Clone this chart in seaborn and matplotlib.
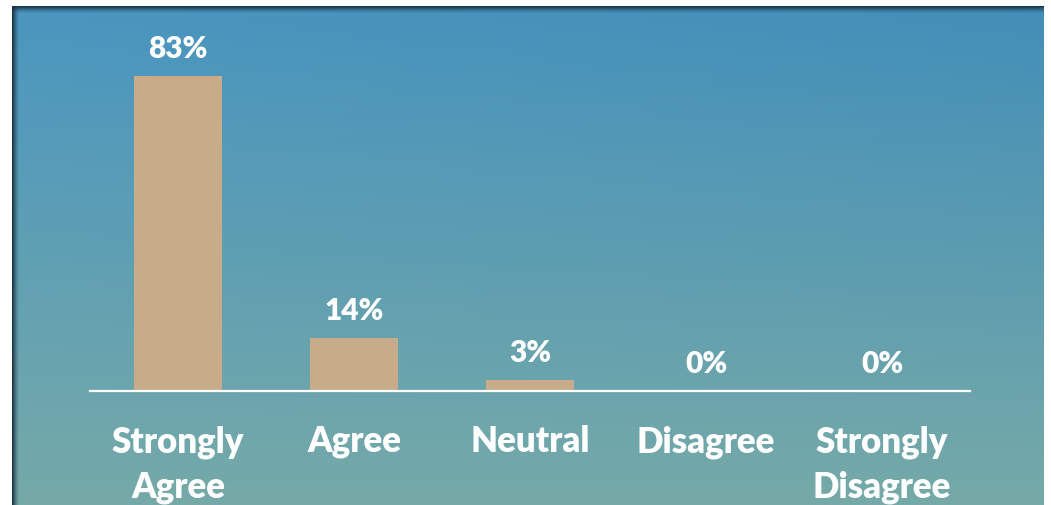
import numpy as np
import pandas as pd
import matplotlib
matplotlib.use("Agg")
import matplotlib.pyplot as plt
import seaborn as sns

categories = ["Strongly\nAgree", "Agree", "Neutral", "Disagree", "Strongly\nDisagree"]
percents = [83, 14, 3, 0, 0]

sns.set_style("white")
plt.rcParams['font.family'] = ['Lato', 'DejaVu Sans']

W, H = 1051, 506
fig = plt.figure(figsize=(W / 100, H / 100), dpi=100)
fig.patch.set_facecolor("white")

# background panel: blue-to-teal gradient with a dark shadowed top/left edge
pw, ph = 1044 - 12, H - 7
t = np.linspace(0, 1, ph)[:, None, None]
s = np.linspace(0, 1, pw)[None, :, None]
top = np.array([74, 150, 192]) / 255
bot = np.array([118, 170, 168]) / 255
img = top + (bot - top) * t
img = img - 0.03 * s * (1 - t)
img = np.broadcast_to(img, (ph, pw, 3)).copy()
edge = np.array([22, 48, 64]) / 255
for i in range(7):
    a = 0.95 * (1 - i / 7) ** 1.4
    img[i, :, :] = img[i, :, :] * (1 - a) + edge * a
    img[:, i, :] = img[:, i, :] * (1 - a) + edge * a
bg = fig.add_axes([12 / W, 0, pw / W, ph / H])
bg.imshow(np.clip(img, 0, 1), aspect="auto", interpolation="bilinear")
bg.axis("off")

# main bar chart
base_y = 392
ymax = 90
px_per_unit = 379.5 / 100
ax_h = ymax * px_per_unit
ax = fig.add_axes([90 / W, (H - base_y) / H, 880 / W, ax_h / H])
ax.patch.set_alpha(0)

df = pd.DataFrame({"category": categories, "percent": percents})
sns.barplot(data=df, x="category", y="percent", color="#c8ab89", width=0.5,
            saturation=1, edgecolor="none", linewidth=0, ax=ax)
ax.set_ylim(0, ymax)
ax.set_xlim(-0.5, len(categories) - 0.5)

for c in ax.containers:
    ax.bar_label(c, labels=[f"{v}%" for v in percents], padding=10,
                 color="white", fontsize=21.5, fontweight="heavy")

for side in ["top", "left", "right"]:
    ax.spines[side].set_visible(False)
ax.spines["bottom"].set_color("white")
ax.spines["bottom"].set_linewidth(1.6)
ax.set_yticks([])
ax.set_xlabel("")
ax.set_ylabel("")
ax.tick_params(axis="x", length=0, pad=24, labelsize=25, labelcolor="white")
for lab in ax.get_xticklabels():
    lab.set_fontweight("heavy")
    lab.set_linespacing(1.42)
    lab.set_verticalalignment("top")

fig.savefig("out.png", dpi=100)
